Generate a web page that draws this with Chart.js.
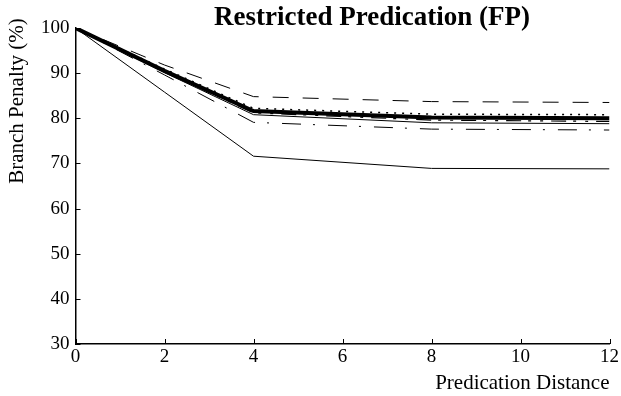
<!DOCTYPE html>
<html>
<head>
<meta charset="utf-8">
<script src="https://cdn.jsdelivr.net/npm/chart.js@4"></script>
<style>
  html, body { margin: 0; padding: 0; background: #fff; }
  #wrap { width: 621px; height: 396px; }
</style>
</head>
<body>
<div id="wrap"><canvas id="chart"></canvas></div>
<script>
const distances = [0, 2, 4, 8, 12];
const xTicks = [0, 2, 4, 6, 8, 10, 12];
const yTicks = [30, 40, 50, 60, 70, 80, 90, 100];

// one array per curve
const dashedLine = [100, 91.8, 84.8, 83.7, 83.5];
const dottedLine = [100, 90.9, 82.2, 80.9, 80.8];
const thickLine = [100, 90.5, 81.6, 80.2, 80.0];
const dashDotDotLine = [100, 90.3, 81.2, 79.6, 79.3];
const thinLine = [100, 90.1, 80.8, 79.0, 78.8];
const dashDotLine = [100, 89.6, 79.1, 77.6, 77.4];
const lowLine = [100, 85.8, 71.6, 68.9, 68.8];

const serif = "'Liberation Serif', 'DejaVu Serif', serif";

function pts(vals) {
  return vals.map((v, i) => ({ x: distances[i], y: v }));
}

function series(vals, width, dash) {
  return {
    data: pts(vals),
    borderColor: "#000",
    borderWidth: width,
    borderDash: dash,
    pointRadius: 0,
    fill: false,
    tension: 0,
  };
}

// inward tick marks, y title and chart title placed like the original
const extras = {
  id: "extras",
  afterDraw(chart) {
    const ctx = chart.ctx;
    const xs = chart.scales.x;
    const ys = chart.scales.y;
    const area = chart.chartArea;
    ctx.save();
    ctx.strokeStyle = "#000";
    ctx.lineWidth = 1;
    ctx.beginPath();
    xTicks.forEach((t) => {
      const px = Math.round(xs.getPixelForValue(t)) + 0.5;
      ctx.moveTo(px, area.bottom);
      ctx.lineTo(px, area.bottom - 5);
    });
    yTicks.forEach((t) => {
      const py = Math.round(ys.getPixelForValue(t)) + 0.5;
      ctx.moveTo(area.left, py);
      ctx.lineTo(area.left + 5, py);
    });
    ctx.stroke();

    ctx.fillStyle = "#000";
    ctx.font = "bold 27px " + serif;
    ctx.textAlign = "center";
    ctx.textBaseline = "middle";
    ctx.fillText("Restricted Predication (FP)", 372, 18);

    ctx.font = "21px " + serif;
    ctx.translate(17, 101);
    ctx.rotate(-Math.PI / 2);
    ctx.fillText("Branch Penalty (%)", 0, 0);
    ctx.restore();
  },
};

new Chart(document.getElementById("chart"), {
  type: "line",
  data: {
    datasets: [
      series(lowLine, 1, []),
      series(dashedLine, 1, [16, 14]),
      series(dottedLine, 1.5, [2, 6]),
      series(dashDotLine, 1, [19, 12, 2, 13]),
      series(thinLine, 1, []),
      series(dashDotDotLine, 1.2, [15, 7, 3, 9, 3, 8]),
      series(thickLine, 4, []),
    ],
  },
  options: {
    responsive: true,
    maintainAspectRatio: false,
    animation: false,
    layout: { padding: { top: 28, right: 10, left: 35, bottom: 0 } },
    plugins: {
      legend: { display: false },
      tooltip: { enabled: false },
    },
    scales: {
      x: {
        type: "linear",
        min: 0,
        max: 12,
        afterBuildTicks: (s) => { s.ticks = xTicks.map((v) => ({ value: v })); },
        grid: { drawOnChartArea: false, drawTicks: false },
        border: { display: true, color: "#000", width: 1.5 },
        ticks: {
          color: "#000",
          padding: 2,
          maxRotation: 0,
          font: { family: serif, size: 19 },
        },
        title: {
          display: true,
          text: "Predication Distance",
          align: "end",
          color: "#000",
          padding: { top: 0, bottom: 0 },
          font: { family: serif, size: 21 },
        },
      },
      y: {
        min: 30,
        max: 100,
        afterBuildTicks: (s) => { s.ticks = yTicks.map((v) => ({ value: v })); },
        grid: { drawOnChartArea: false, drawTicks: false },
        border: { display: true, color: "#000", width: 1.5 },
        ticks: {
          color: "#000",
          padding: 6,
          font: { family: serif, size: 19 },
        },
      },
    },
  },
  plugins: [extras],
});
</script>
</body>
</html>
